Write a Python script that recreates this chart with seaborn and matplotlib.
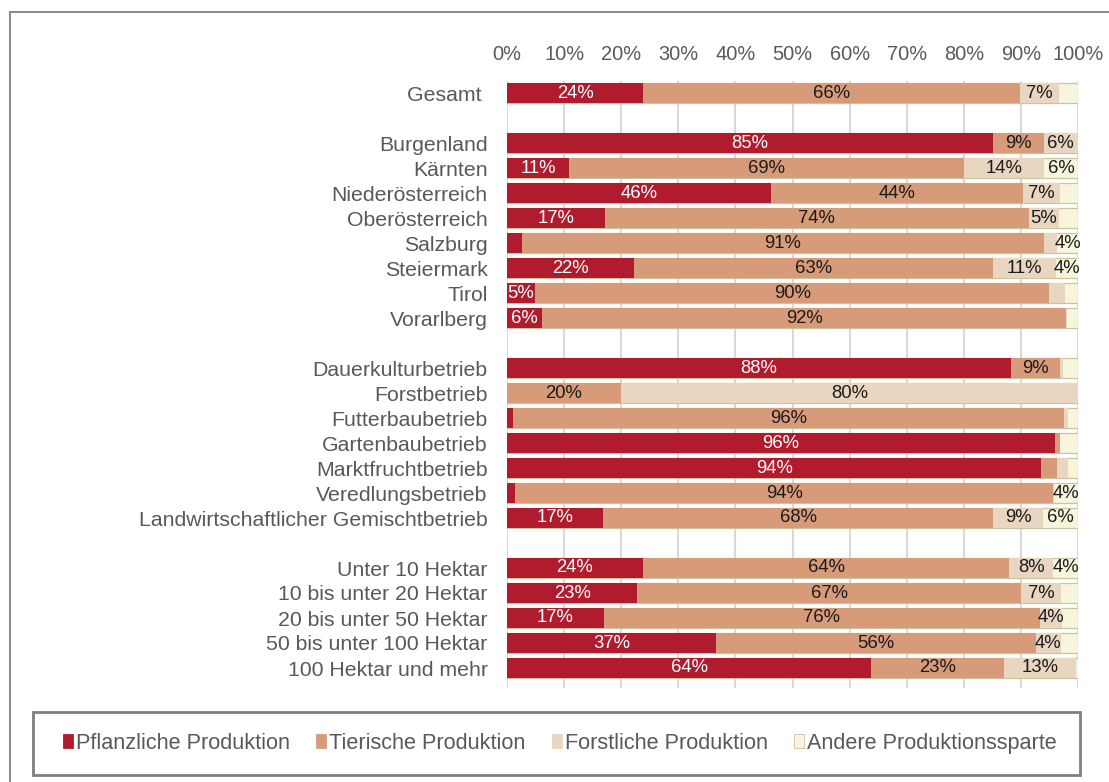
import matplotlib
matplotlib.use("Agg")
import matplotlib.pyplot as plt
import seaborn as sns
import pandas as pd
import numpy as np
from matplotlib.patches import Rectangle, Patch

# ---------------- data ----------------
categories = ["Gesamt ", "Burgenland", "Kärnten", "Niederösterreich", "Oberösterreich",
              "Salzburg", "Steiermark", "Tirol", "Vorarlberg",
              "Dauerkulturbetrieb", "Forstbetrieb", "Futterbaubetrieb", "Gartenbaubetrieb",
              "Marktfruchtbetrieb", "Veredlungsbetrieb", "Landwirtschaftlicher Gemischtbetrieb",
              "Unter 10 Hektar", "10 bis unter 20 Hektar", "20 bis unter 50 Hektar",
              "50 bis unter 100 Hektar", "100 Hektar und mehr"]
pflanzlich = [23.9, 85.2, 10.9, 46.2, 17.1, 2.6, 22.3, 4.9, 6.2,
              88.3, 0.0, 1.1, 95.9, 93.6, 1.4, 16.8,
              23.8, 22.8, 17.0, 36.6, 63.8]
tierisch = [66.0, 8.8, 69.2, 44.1, 74.3, 91.4, 62.9, 90.1, 91.7,
            8.5, 19.9, 96.4, 0.9, 2.8, 94.3, 68.4,
            64.2, 67.3, 76.3, 56.0, 23.2]
forstlich = [6.7, 6.0, 14.0, 6.6, 5.2, 2.4, 10.9, 2.7, 0.1,
             0.6, 80.1, 0.7, 0.1, 1.9, 0.1, 8.6,
             7.7, 7.0, 3.9, 4.4, 12.6]
andere = [3.4, 0.0, 5.9, 3.1, 3.4, 3.6, 3.9, 2.3, 2.0,
          2.6, 0.0, 1.8, 3.1, 1.7, 4.2, 6.2,
          4.3, 2.9, 2.8, 3.0, 0.4]
series_names = ["Pflanzliche Produktion", "Tierische Produktion",
                "Forstliche Produktion", "Andere Produktionssparte"]
tick_labels = ["0%", "10%", "20%", "30%", "40%", "50%", "60%", "70%", "80%", "90%", "100%"]

# category order with blank separator rows
order = ([categories[0], " "] + categories[1:9] + ["  "] + categories[9:16]
         + ["   "] + categories[16:])

colors = ["#B01C2E", "#D89B7A", "#E8D6C0", "#F8F5DC"]
text_gray = "#595959"

# ---------------- style ----------------
sns.set_style("white")
plt.rcParams["font.family"] = ["Liberation Sans", "DejaVu Sans"]

fig = plt.figure(figsize=(11.09, 7.82), dpi=100)
ax = fig.add_axes([507 / 1109, 1 - 688 / 782, (1078 - 507) / 1109, (688 - 80.5) / 782])

series = [pflanzlich, tierisch, forstlich, andere]
df = pd.DataFrame({"cat": categories})
cum = np.zeros(len(categories))
for k, s in enumerate(series):
    cum = cum + np.array(s)
    df[f"cum{k}"] = cum

# draw layered cumulative bars (largest first)
for k in reversed(range(4)):
    kw = dict(linewidth=0)
    if k == 3:
        kw = dict(linewidth=0.9, edgecolor="#C9C59E")
    sns.barplot(data=df, y="cat", x=f"cum{k}", order=order, orient="h",
                color=colors[k], saturation=1, width=0.8, errorbar=None,
                ax=ax, **kw)

# value labels
for i, cat in enumerate(categories):
    ypos = order.index(cat)
    left = 0.0
    for k, s in enumerate(series):
        v = s[i]
        if v >= 3.5:
            ax.text(left + v / 2, ypos, f"{int(np.floor(v + 0.5))}%",
                    ha="center", va="center", fontsize=13.3,
                    color="white" if k == 0 else "#1a1a1a")
        left += v

ax.set_xlim(0, 100)
ax.set_ylim(23.8, -0.5)
ax.set_xticks(np.arange(0, 101, 10))
ax.set_xticklabels(tick_labels)
ax.xaxis.tick_top()
ax.tick_params(axis="x", length=0, pad=12, labelsize=14.4, labelcolor=text_gray)
ax.tick_params(axis="y", length=0, pad=14, labelsize=15.3, labelcolor=text_gray)
ax.set_xlabel("")
ax.set_ylabel("")
ax.grid(axis="x", color="#D9D9D9", linewidth=1.5)
ax.grid(axis="y", visible=False)
ax.set_axisbelow(True)
for sp in ax.spines.values():
    sp.set_visible(False)

# outer frame (partially cropped)
fig.patches.append(Rectangle((10 / 1109, -0.1), 1.2, (1 - 12 / 782) + 0.1,
                             transform=fig.transFigure, fill=False,
                             edgecolor="#8C8C8C", linewidth=1.5))
# legend box
fig.patches.append(Rectangle((33 / 1109, 1 - 775 / 782), (1080 - 33) / 1109,
                             (775 - 712) / 782, transform=fig.transFigure,
                             fill=False, edgecolor="#808080", linewidth=2))

handles = [Patch(facecolor=colors[k],
                 edgecolor="#C9C59E" if k == 3 else colors[k], linewidth=0.6)
           for k in range(4)]
fig.legend(handles, series_names, loc="center",
           bbox_to_anchor=(560 / 1109, 1 - 743.5 / 782), ncol=4, frameon=False,
           fontsize=15.6, handlelength=0.45, handleheight=0.6, handletextpad=0.15,
           columnspacing=1.2, labelcolor=text_gray)

fig.savefig("out.png", dpi=100)
